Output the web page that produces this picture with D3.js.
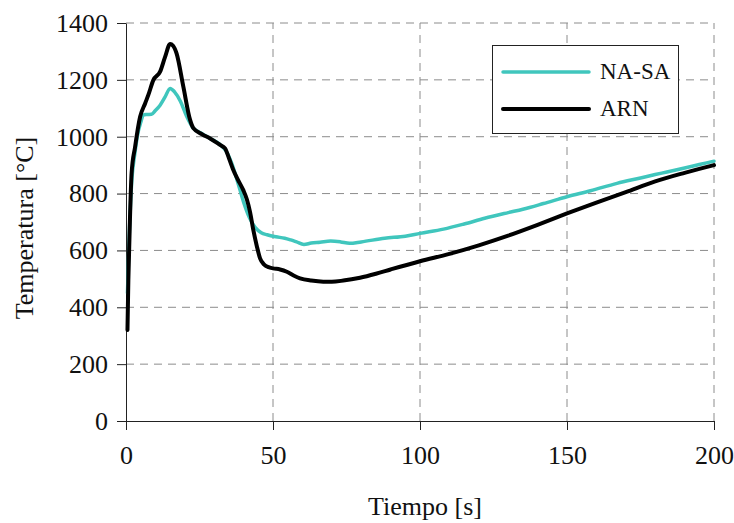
<!DOCTYPE html>
<html lang="es">
<head>
  <meta charset="UTF-8">
  <title>Temperatura</title>
  <script src="https://cdn.jsdelivr.net/npm/d3@7"></script>
  <style>
    body { margin: 0; background: #fff; }
    text { font-family: "Liberation Serif", "DejaVu Serif", serif !important; }
  </style>
</head>
<body>
<script>
  // data
  const tNasa = [0.5, 1, 2, 3, 4, 5, 5.9, 7, 8.7, 10, 11.6, 13.3, 15, 16.5, 18.5, 20.5, 22.9, 26, 28.6, 32, 34, 36, 38, 40, 42, 44, 46, 48, 51, 54, 56, 58, 60.5, 63, 66, 69.6, 73, 76, 80, 88, 95, 100, 108, 115, 122, 130, 135, 142, 150, 158, 167, 175, 180, 184, 190, 195, 200];
  const vNasa = [450, 620, 850, 940, 1010, 1050, 1076, 1078, 1079, 1092, 1111, 1140, 1170, 1158, 1125, 1075, 1030, 1010, 994, 972, 950, 905, 840, 770, 715, 680, 662, 655, 648, 643, 637, 630, 621, 626, 629, 633, 630, 625, 630, 643, 650, 660, 675, 693, 713, 733, 745, 765, 789, 810, 836, 855, 867, 876, 890, 902, 914];

  const tArn = [0.5, 0.8, 1.4, 1.9, 3.1, 4.8, 6.5, 7.6, 9.3, 11.6, 13.3, 15, 16, 17.2, 19.5, 21.8, 22.9, 26, 28.6, 32, 33.7, 35, 36.5, 38, 39.9, 41.1, 42.2, 43.3, 44.5, 45.6, 47, 48.5, 50, 52.4, 54.7, 57, 59.2, 63, 67.1, 70, 73.9, 79.6, 85, 90, 100, 110, 120, 130, 140, 150, 160, 170, 180, 190, 200];
  const vArn = [320, 496, 730, 871, 965, 1070, 1117, 1147, 1199, 1229, 1281, 1326, 1320, 1293, 1176, 1059, 1030, 1008, 994, 971, 959, 925, 883, 850, 812, 780, 735, 672, 615, 572, 550, 541, 537, 533, 525, 512, 502, 494, 490, 490, 494, 504, 518, 533, 562, 588, 618, 652, 690, 730, 768, 805, 843, 873, 900];

  const series = [
    {name: 'NA-SA', t: tNasa, v: vNasa, color: '#40c6bd', width: 3.5},
    {name: 'ARN', t: tArn, v: vArn, color: '#000000', width: 4}
  ];
  const xTicks = [0, 50, 100, 150, 200];
  const yTicks = [0, 200, 400, 600, 800, 1000, 1200, 1400];

  const width = 734;
  const height = 523;
  const margin = {top: 23, right: 20, bottom: 102, left: 126};

  const x = d3.scaleLinear().domain([0, 200]).range([margin.left, width - margin.right]);
  const y = d3.scaleLinear().domain([0, 1400]).range([height - margin.bottom, margin.top]);

  const svg = d3.select('body').append('svg')
    .attr('width', width)
    .attr('height', height);

  // dashed grid
  svg.append('g')
    .selectAll('line')
    .data(yTicks.slice(1))
    .join('line')
    .attr('x1', x(0)).attr('x2', x(200))
    .attr('y1', d => y(d)).attr('y2', d => y(d))
    .attr('stroke', '#8c8c8c')
    .attr('stroke-dasharray', '8,6');

  svg.append('g')
    .selectAll('line')
    .data(xTicks.slice(1))
    .join('line')
    .attr('x1', d => x(d)).attr('x2', d => x(d))
    .attr('y1', y(0)).attr('y2', y(1400))
    .attr('stroke', '#8c8c8c')
    .attr('stroke-dasharray', '8,6');

  // axes
  const xAxis = g => g
    .attr('transform', `translate(0,${y(0)})`)
    .call(d3.axisBottom(x).tickValues(xTicks).tickFormat(d3.format('d')).tickSize(9).tickSizeOuter(0).tickPadding(16))
    .call(g => g.selectAll('text').style('font-size', '26px').attr('fill', '#111'))
    .call(g => g.selectAll('line, path').attr('stroke', '#222'));

  const yAxis = g => g
    .attr('transform', `translate(${x(0)},0)`)
    .call(d3.axisLeft(y).tickValues(yTicks).tickFormat(d3.format('d')).tickSize(9).tickSizeOuter(0).tickPadding(9))
    .call(g => g.selectAll('text').style('font-size', '26px').attr('fill', '#111'))
    .call(g => g.selectAll('line, path').attr('stroke', '#222'));

  svg.append('g').call(xAxis);
  svg.append('g').call(yAxis);

  // lines
  const line = d3.line()
    .x(d => x(d[0]))
    .y(d => y(d[1]))
    .curve(d3.curveMonotoneX);

  series.forEach(s => {
    svg.append('path')
      .datum(d3.zip(s.t, s.v))
      .attr('fill', 'none')
      .attr('stroke', s.color)
      .attr('stroke-width', s.width)
      .attr('stroke-linejoin', 'round')
      .attr('stroke-linecap', 'round')
      .attr('d', line);
  });

  // axis titles
  svg.append('text')
    .attr('x', (x(0) + x(200)) / 2 + 5)
    .attr('y', 515)
    .attr('text-anchor', 'middle')
    .attr('fill', '#111')
    .style('font-size', '26px')
    .text('Tiempo [s]');

  svg.append('text')
    .attr('transform', `translate(33,${(y(0) + y(1400)) / 2 + 6}) rotate(-90)`)
    .attr('text-anchor', 'middle')
    .attr('fill', '#111')
    .style('font-size', '26px')
    .text('Temperatura [°C]');

  // legend
  const legend = svg.append('g');
  legend.append('rect')
    .attr('x', 492.5).attr('y', 45.5)
    .attr('width', 186).attr('height', 88)
    .attr('fill', '#fff')
    .attr('stroke', '#222');

  series.forEach((s, i) => {
    const ly = 72 + i * 37;
    legend.append('line')
      .attr('x1', 503).attr('x2', 589)
      .attr('y1', ly).attr('y2', ly)
      .attr('stroke', s.color)
      .attr('stroke-width', s.width)
      .attr('stroke-linecap', 'round');
    legend.append('text')
      .attr('x', 600).attr('y', ly + 7)
      .attr('fill', '#111')
      .style('font-size', '23px')
      .text(s.name);
  });
</script>
</body>
</html>
